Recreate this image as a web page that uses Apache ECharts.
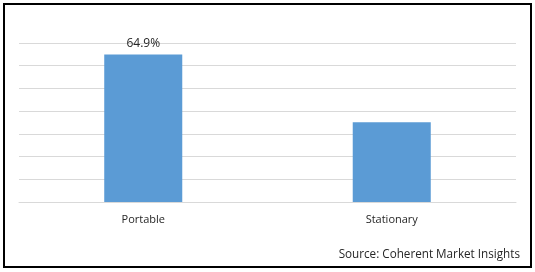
<!DOCTYPE html>
<html>
<head>
<meta charset="utf-8">
<script src="https://cdn.jsdelivr.net/npm/echarts@6/dist/echarts.min.js"></script>
<style>
html,body{margin:0;padding:0;background:#fff;}
#c{width:535px;height:272px;}
</style>
</head>
<body>
<div id="c"></div>
<script>
var categories = ['Portable', 'Stationary'];
var shareValues = [64.9, 35.1];
var valueLabels = ['64.9%', ''];
var sourceText = 'Source: Coherent Market Insights';

var chart = echarts.init(document.getElementById('c'), null, {renderer: 'canvas'});
chart.setOption({
  animation: false,
  backgroundColor: '#ffffff',
  grid: {left: 19, right: 19, top: 43, bottom: 70, containLabel: false},
  xAxis: {
    type: 'category',
    data: categories,
    axisLine: {show: true, lineStyle: {color: '#d9d9d9', width: 1}},
    axisTick: {show: false},
    axisLabel: {color: '#262626', fontSize: 11, fontFamily: 'Open Sans, DejaVu Sans, sans-serif', margin: 12}
  },
  yAxis: {
    type: 'value',
    min: 0, max: 70, interval: 10,
    axisLine: {show: false},
    axisTick: {show: false},
    axisLabel: {show: false},
    splitLine: {lineStyle: {color: '#d9d9d9', width: 1}}
  },
  series: [{
    type: 'bar',
    data: shareValues,
    barWidth: '31.4%',
    itemStyle: {color: '#5b9bd5'},
    label: {
      show: true,
      position: 'top',
      distance: 5,
      color: '#262626',
      fontSize: 12,
      fontFamily: 'Open Sans, DejaVu Sans, sans-serif',
      formatter: function (p) { return valueLabels[p.dataIndex]; }
    }
  }],
  graphic: [
    {type: 'rect', shape: {x: 4, y: 4, width: 527, height: 263}, style: {fill: 'none', stroke: '#000', lineWidth: 2}, z: 100},
    {type: 'text', right: 15, top: 249, style: {text: sourceText, fill: '#262626', fontSize: 11.7, fontFamily: 'Open Sans, DejaVu Sans, sans-serif'}}
  ]
});
</script>
</body>
</html>
